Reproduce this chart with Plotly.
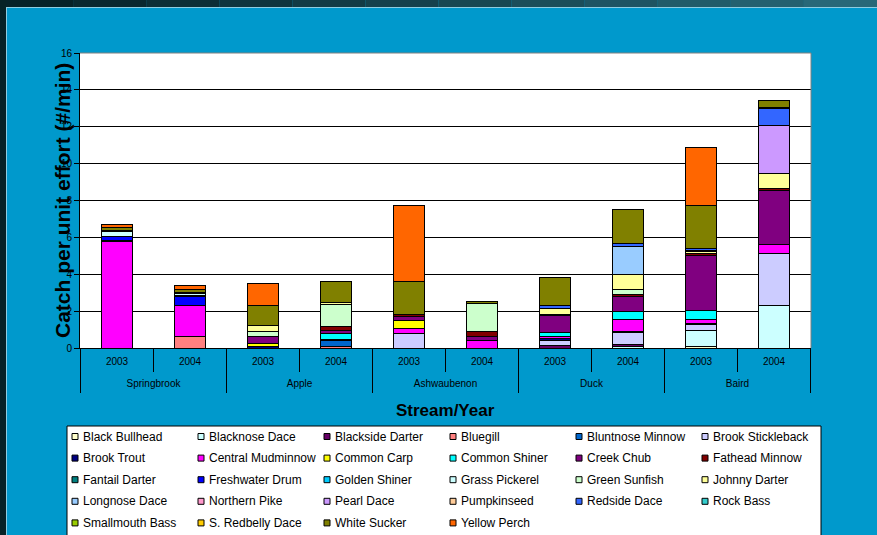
import plotly.graph_objects as go

# categories
streams = ["Springbrook", "Springbrook", "Apple", "Apple", "Ashwaubenon", "Ashwaubenon",
           "Duck", "Duck", "Baird", "Baird"]
years = ["2003", "2004", "2003", "2004", "2003", "2004", "2003", "2004", "2003", "2004"]

# catch per unit effort (#/min), one value per stream/year
black_bullhead = [0, 0, 0, 0, 0, 0, 0, 0, 0.09, 0]
blacknose_dace = [0, 0, 0, 0, 0, 0, 0, 0.08, 0.88, 2.28]
blackside_darter = [0, 0, 0, 0, 0, 0, 0.12, 0.12, 0, 0]
bluegill = [0, 0.6, 0, 0.1, 0, 0, 0, 0, 0, 0]
bluntnose_minnow = [0, 0, 0, 0.3, 0, 0, 0, 0, 0, 0]
brook_stickleback = [0, 0, 0, 0, 0.76, 0, 0.3, 0.62, 0.31, 2.85]
brook_trout = [0, 0, 0.1, 0.06, 0, 0, 0.08, 0.05, 0.05, 0]
central_mudminnow = [5.78, 1.72, 0, 0, 0.3, 0.4, 0.14, 0.68, 0.2, 0.5]
common_carp = [0, 0, 0.16, 0, 0.42, 0, 0, 0, 0, 0]
common_shiner = [0, 0, 0, 0.32, 0, 0, 0.2, 0.42, 0.52, 0]
creek_chub = [0, 0, 0.35, 0.18, 0.25, 0.2, 0.9, 0.8, 2.98, 2.9]
fathead_minnow = [0.07, 0, 0, 0.22, 0.11, 0.32, 0, 0.15, 0.1, 0.1]
fantail_darter = [0, 0, 0, 0, 0, 0, 0, 0, 0, 0]
freshwater_drum = [0.18, 0.45, 0, 0, 0, 0, 0, 0, 0, 0]
golden_shiner = [0, 0.08, 0, 0, 0, 0, 0, 0, 0, 0]
grass_pickerel = [0.3, 0.08, 0, 0, 0, 0, 0, 0, 0, 0]
green_sunfish = [0.05, 0.1, 0.28, 1.19, 0, 1.5, 0.1, 0.28, 0, 0]
johnny_darter = [0, 0, 0.34, 0.1, 0, 0, 0.3, 0.8, 0.12, 0.82]
longnose_dace = [0, 0, 0, 0, 0, 0, 0, 1.52, 0.06, 0]
northern_pike = [0, 0, 0, 0, 0, 0, 0, 0, 0, 0]
pearl_dace = [0, 0, 0, 0, 0, 0, 0, 0, 0, 2.6]
pumpkinseed = [0, 0, 0, 0, 0, 0, 0, 0, 0, 0]
redside_dace = [0, 0, 0, 0, 0, 0, 0.14, 0.13, 0.1, 0.95]
rock_bass = [0, 0, 0, 0, 0, 0, 0, 0, 0, 0]
smallmouth_bass = [0, 0, 0, 0, 0, 0, 0, 0, 0, 0]
s_redbelly_dace = [0, 0, 0, 0, 0, 0, 0, 0, 0, 0.05]
white_sucker = [0.18, 0.12, 1.09, 1.13, 1.78, 0.12, 1.55, 1.88, 2.3, 0.4]
yellow_perch = [0.16, 0.23, 1.2, 0, 4.12, 0, 0, 0, 3.14, 0]

species = [
    ("Black Bullhead", black_bullhead), ("Blacknose Dace", blacknose_dace),
    ("Blackside Darter", blackside_darter), ("Bluegill", bluegill),
    ("Bluntnose Minnow", bluntnose_minnow), ("Brook Stickleback", brook_stickleback),
    ("Brook Trout", brook_trout), ("Central Mudminnow", central_mudminnow),
    ("Common Carp", common_carp), ("Common Shiner", common_shiner),
    ("Creek Chub", creek_chub), ("Fathead Minnow", fathead_minnow),
    ("Fantail Darter", fantail_darter), ("Freshwater Drum", freshwater_drum),
    ("Golden Shiner", golden_shiner), ("Grass Pickerel", grass_pickerel),
    ("Green Sunfish", green_sunfish), ("Johnny Darter", johnny_darter),
    ("Longnose Dace", longnose_dace), ("Northern Pike", northern_pike),
    ("Pearl Dace", pearl_dace), ("Pumpkinseed", pumpkinseed),
    ("Redside Dace", redside_dace), ("Rock Bass", rock_bass),
    ("Smallmouth Bass", smallmouth_bass), ("S. Redbelly Dace", s_redbelly_dace),
    ("White Sucker", white_sucker), ("Yellow Perch", yellow_perch),
]
colors = [
    "#FFFFCC", "#CCFFFF", "#660066", "#FF8080", "#0066CC", "#CCCCFF",
    "#000080", "#FF00FF", "#FFFF00", "#00FFFF", "#800080", "#800000",
    "#008080", "#0000FF", "#00CCFF", "#CCFFFF", "#CCFFCC", "#FFFF99",
    "#99CCFF", "#FF99CC", "#CC99FF", "#FFCC99", "#3366FF", "#33CCCC",
    "#99CC00", "#FFCC00", "#808000", "#FF6600",
]

FONT = "Arial, 'Liberation Sans', sans-serif"
BLUE = "#0099CC"
W, H = 877, 535
L, R, T, B = 80, 811, 53, 348


def px(x):
    return (x - L) / (R - L)


def py(y):
    return (B - y) / (B - T)


# blank first line pushes the stream row further below the year row
x_cats = [["<br>" + s for s in streams], years]

fig = go.Figure()
for (name, vals), col in zip(species, colors):
    fig.add_trace(go.Bar(
        x=x_cats,
        y=[v if v else None for v in vals],
        name=name,
        marker=dict(color=col, line=dict(color="black", width=1)),
        showlegend=False,
    ))

shapes = []
annotations = []

# slide frame
n_seg = 12
for i in range(n_seg):
    t = i / (n_seg - 1)
    c = "rgb(%d,%d,%d)" % (6 + 34 * t, 34 + 70 * t, 40 + 80 * t)
    shapes.append(dict(type="rect", xref="paper", yref="paper",
                       x0=px(W * i / n_seg), x1=px(W * (i + 1) / n_seg),
                       y0=py(0), y1=py(7), fillcolor=c, line_width=0, layer="below"))
shapes.append(dict(type="rect", xref="paper", yref="paper", x0=px(0), x1=px(6),
                   y0=py(0), y1=py(H), fillcolor="#062226", line_width=0, layer="below"))
shapes.append(dict(type="line", xref="paper", yref="paper", x0=px(6), x1=px(W),
                   y0=py(7.5), y1=py(7.5), line=dict(color="#8fcde0", width=1)))
shapes.append(dict(type="line", xref="paper", yref="paper", x0=px(6.5), x1=px(6.5),
                   y0=py(7), y1=py(H), line=dict(color="#8fcde0", width=1)))

# plot border top / right
shapes.append(dict(type="line", xref="paper", yref="paper", x0=0, x1=1, y0=1, y1=1,
                   line=dict(color="#808080", width=1)))
shapes.append(dict(type="line", xref="paper", yref="paper", x0=1, x1=1, y0=0, y1=1,
                   line=dict(color="#808080", width=1)))

# short separators between the two years of each stream
for k in range(0, len(years), 2):
    shapes.append(dict(type="line", xref="x", yref="paper", x0=k + 0.5, x1=k + 0.5,
                       y0=0, y1=py(371), line=dict(color="black", width=1)))
# stretch the stream dividers down to the bottom of the category box
for k in range(0, len(years) + 1, 2):
    shapes.append(dict(type="line", xref="x", yref="paper", x0=k - 0.5, x1=k - 0.5,
                       y0=py(375), y1=py(393), line=dict(color="black", width=1)))

# legend box
shapes.append(dict(type="rect", xref="paper", yref="paper", x0=px(67), x1=px(821),
                   y0=py(540), y1=py(426), fillcolor="white",
                   line=dict(color="black", width=1)))
for i, ((name, _), col) in enumerate(zip(species, colors)):
    row, c = divmod(i, 6)
    tx = 83 + 126 * c
    ty = 436.5 + 21.6 * row
    shapes.append(dict(type="rect", xref="paper", yref="paper",
                       x0=px(tx - 11), x1=px(tx - 5), y0=py(ty + 3), y1=py(ty - 3),
                       fillcolor=col, line=dict(color="black", width=1)))
    annotations.append(dict(text=name, x=px(tx - 2), y=py(ty), xref="paper", yref="paper",
                            xanchor="left", yanchor="middle", showarrow=False,
                            font=dict(size=12, color="black", family=FONT)))

annotations.append(dict(text="<b>Catch per unit effort (#/min)</b>", textangle=-90,
                        x=px(62), y=py(201), xref="paper", yref="paper",
                        xanchor="center", yanchor="middle", showarrow=False,
                        font=dict(size=21, color="black", family=FONT)))
annotations.append(dict(text="<b>Stream/Year</b>", x=0.5, y=py(410),
                        xref="paper", yref="paper", xanchor="center", yanchor="middle",
                        showarrow=False, font=dict(size=17, color="black", family=FONT)))

fig.update_layout(
    width=W, height=H, autosize=False,
    margin=dict(l=L, r=W - R, t=T, b=H - B, pad=0),
    paper_bgcolor=BLUE, plot_bgcolor="white",
    barmode="stack", bargap=0.58,
    font=dict(family=FONT, color="black"),
    xaxis=dict(
        type="multicategory", showline=True, linecolor="black", linewidth=1,
        ticks="outside", tickson="boundaries", ticklen=23, tickcolor="black",
        ticklabelstandoff=4,
        showdividers=True, dividercolor="black", dividerwidth=1,
        tickfont=dict(size=10, color="black", family=FONT), showgrid=False,
    ),
    yaxis=dict(
        range=[0, 16], dtick=2, showgrid=True, gridcolor="black", gridwidth=1,
        showline=True, linecolor="black", linewidth=1, ticks="outside", ticklen=5,
        tickcolor="black", zeroline=False,
        tickfont=dict(size=10, color="black", family=FONT),
    ),
    shapes=shapes,
    annotations=annotations,
)

fig.write_html("out.html", config={"displayModeBar": False},
               post_script="document.body.style.margin='0';"
                           "document.body.style.overflow='hidden';")
